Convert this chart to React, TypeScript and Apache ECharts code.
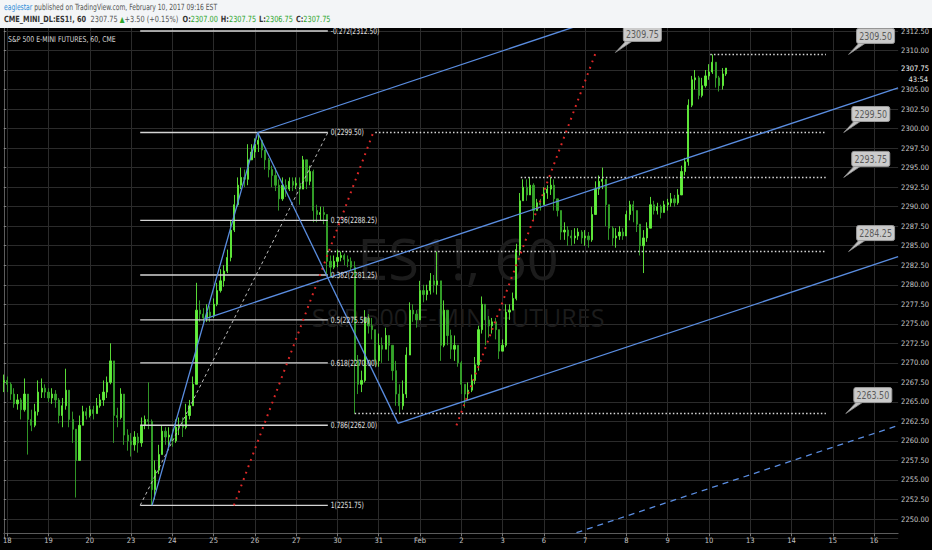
import React, { useEffect, useRef } from 'react';
import * as echarts from 'echarts';

const NARROW = '"Liberation Sans Narrow", "DejaVu Sans Condensed", "Arial Narrow", "Liberation Sans", sans-serif';

// x axis: trading days, 12 slots per day, one lead slot
const DAY_LABELS = ['18', '19', '20', '23', '24', '25', '26', '27', '30', '31', 'Feb', '2', '3', '6', '7', '8', '9', '10', '13', '14', '15', '16'];
const BARS_PER_DAY = 12;
const LEAD_BARS = 1;
const SLOT_COUNT = 261;

// price data (open of each bar = previous close)
const FIRST_OPEN = 2267.5;
const CLOSES = [
  2267.75, 2267.25, 2266.0, 2264.75, 2265.25, 2264.0, 2266.0, 2262.75, 2262.0, 2263.75,
  2266.25, 2266.75, 2266.25, 2265.5, 2266.0, 2265.25, 2263.25, 2264.5, 2266.5, 2262.75,
  2261.5, 2257.5, 2262.0, 2263.75, 2263.25, 2264.0, 2263.5, 2264.5, 2265.25, 2266.25,
  2267.5, 2270.25, 2263.25, 2263.0, 2266.0, 2260.75, 2260.0, 2259.5, 2260.5, 2259.75,
  2262.0, 2262.75, 2262.5, 2253.75, 2256.25, 2258.25, 2261.25, 2260.5, 2260.75, 2260.0,
  2261.75, 2262.0, 2261.75, 2263.25, 2264.5, 2267.25, 2276.75, 2276.25, 2275.75, 2276.5,
  2276.0, 2277.5, 2279.25, 2280.5, 2281.75, 2283.5, 2287.0, 2290.25, 2292.75, 2293.75,
  2293.5, 2296.0, 2297.0, 2298.0, 2298.5, 2297.25, 2296.0, 2294.75, 2294.0, 2292.75,
  2291.0, 2292.75, 2292.25, 2293.25, 2292.75, 2293.0, 2292.25, 2296.0, 2293.25, 2294.5,
  2289.5, 2289.0, 2289.25, 2289.0, 2283.0, 2282.25, 2283.0, 2283.5, 2283.75, 2283.25,
  2283.0, 2282.25, 2270.25, 2267.25, 2267.75, 2275.75, 2274.75, 2274.25, 2270.25, 2272.25,
  2271.75, 2273.5, 2272.25, 2269.0, 2266.0, 2264.5, 2266.0, 2271.0, 2276.75, 2276.25,
  2275.5, 2279.25, 2278.75, 2279.25, 2280.5, 2280.0, 2280.5, 2272.25, 2276.75, 2273.5,
  2271.75, 2272.25, 2270.0, 2267.25, 2266.0, 2266.5, 2267.75, 2269.75, 2274.25, 2277.5,
  2275.5, 2274.75, 2275.25, 2274.25, 2271.5, 2272.25, 2276.5, 2276.75, 2278.25, 2284.5,
  2290.75, 2292.5, 2291.5, 2292.75, 2289.5, 2290.5, 2290.25, 2291.75, 2292.25, 2292.75,
  2291.0, 2289.5, 2286.75, 2287.0, 2286.25, 2286.0, 2286.25, 2286.75, 2286.0, 2286.25,
  2285.75, 2289.0, 2292.25, 2293.25, 2293.5, 2290.25, 2287.25, 2286.0, 2286.25, 2286.75,
  2286.25, 2289.0, 2290.25, 2289.5, 2287.75, 2285.0, 2286.0, 2287.25, 2290.25, 2289.5,
  2290.0, 2289.25, 2290.25, 2290.5, 2291.0, 2290.5, 2291.5, 2294.5, 2295.75, 2303.0,
  2306.25, 2306.5, 2304.25, 2305.5, 2306.75, 2307.25, 2308.5, 2306.5, 2305.5, 2307.0,
  2307.75,
];
const HIGHS = [
  2268.5, 2268.25, 2267.5, 2266.75, 2266.0, 2265.5, 2268.0, 2264.5, 2264.0, 2264.75,
  2267.75, 2268.0, 2267.25, 2266.75, 2266.75, 2266.5, 2265.5, 2265.5, 2269.25, 2266.0,
  2263.75, 2261.5, 2263.25, 2264.5, 2264.25, 2264.5, 2264.5, 2265.5, 2266.0, 2267.75,
  2268.25, 2272.5, 2270.25, 2264.25, 2266.75, 2266.0, 2261.5, 2261.0, 2261.25, 2261.0,
  2263.0, 2263.25, 2267.5, 2262.75, 2257.5, 2259.5, 2262.0, 2261.75, 2261.75, 2261.5,
  2262.75, 2263.0, 2263.0, 2264.75, 2265.25, 2268.25, 2280.25, 2278.0, 2277.0, 2277.5,
  2277.25, 2278.25, 2280.25, 2282.0, 2282.5, 2284.5, 2288.25, 2291.5, 2293.75, 2295.0,
  2294.75, 2298.0, 2298.0, 2298.75, 2299.5, 2298.25, 2297.25, 2296.25, 2295.25, 2295.0,
  2293.5, 2293.75, 2293.5, 2293.75, 2293.75, 2293.75, 2293.75, 2296.5, 2295.25, 2295.25,
  2294.75, 2290.25, 2290.0, 2290.0, 2289.0, 2283.75, 2283.75, 2284.5, 2284.25, 2284.0,
  2283.75, 2283.5, 2283.0, 2271.0, 2269.0, 2276.75, 2276.25, 2275.75, 2274.25, 2273.75,
  2273.25, 2274.5, 2273.5, 2272.25, 2270.25, 2267.25, 2267.75, 2272.0, 2277.75, 2277.5,
  2276.75, 2280.5, 2280.0, 2280.0, 2281.5, 2281.25, 2284.25, 2280.5, 2278.0, 2275.5,
  2274.25, 2273.5, 2271.0, 2270.25, 2267.25, 2267.5, 2268.5, 2270.75, 2274.75, 2278.5,
  2277.5, 2276.0, 2275.75, 2275.75, 2274.25, 2273.0, 2277.5, 2277.5, 2279.0, 2285.25,
  2291.75, 2293.5, 2293.5, 2293.75, 2293.0, 2291.0, 2291.0, 2292.5, 2292.75, 2293.75,
  2293.5, 2290.75, 2289.0, 2288.0, 2287.5, 2287.0, 2287.25, 2287.25, 2287.0, 2287.0,
  2286.75, 2290.0, 2293.25, 2294.0, 2295.0, 2293.5, 2288.5, 2287.5, 2287.25, 2287.5,
  2287.25, 2289.5, 2290.75, 2290.75, 2289.25, 2287.0, 2287.0, 2288.0, 2291.25, 2290.75,
  2290.5, 2290.25, 2290.75, 2291.0, 2291.75, 2291.5, 2292.25, 2295.25, 2296.25, 2303.75,
  2306.75, 2307.5, 2306.75, 2306.5, 2307.5, 2308.25, 2309.5, 2308.5, 2306.75, 2307.75,
  2307.75,
];
const LOWS = [
  2266.25, 2266.25, 2265.25, 2264.25, 2264.0, 2262.75, 2263.75, 2258.25, 2261.25, 2261.75,
  2263.25, 2265.5, 2265.5, 2265.0, 2264.75, 2264.25, 2262.25, 2261.75, 2264.0, 2261.75,
  2259.75, 2252.75, 2257.5, 2262.0, 2262.75, 2263.0, 2262.75, 2263.5, 2264.25, 2264.5,
  2265.5, 2267.25, 2259.75, 2261.75, 2262.75, 2259.5, 2258.75, 2258.0, 2258.75, 2258.5,
  2259.25, 2261.5, 2261.5, 2251.75, 2252.5, 2255.75, 2258.25, 2259.5, 2259.25, 2259.25,
  2259.75, 2260.75, 2260.5, 2261.5, 2262.75, 2264.5, 2267.25, 2275.25, 2275.0, 2275.25,
  2275.25, 2275.75, 2277.25, 2279.0, 2279.75, 2281.5, 2283.0, 2286.75, 2290.0, 2292.25,
  2292.5, 2292.75, 2296.0, 2296.25, 2297.0, 2296.25, 2294.75, 2293.75, 2292.5, 2292.0,
  2289.5, 2290.75, 2291.25, 2292.0, 2292.0, 2292.25, 2290.25, 2292.25, 2292.25, 2292.75,
  2288.0, 2288.0, 2288.25, 2287.75, 2281.25, 2281.0, 2282.0, 2282.25, 2283.0, 2282.5,
  2282.25, 2281.75, 2263.5, 2266.0, 2266.25, 2267.5, 2273.75, 2273.0, 2269.5, 2269.5,
  2270.0, 2272.0, 2270.25, 2267.75, 2264.5, 2263.5, 2264.0, 2265.5, 2271.0, 2275.25,
  2274.5, 2275.5, 2277.75, 2278.0, 2278.75, 2279.0, 2278.75, 2270.25, 2272.0, 2272.25,
  2270.5, 2270.25, 2269.5, 2266.0, 2264.25, 2265.25, 2266.25, 2267.25, 2269.0, 2273.75,
  2272.25, 2273.25, 2273.75, 2273.0, 2270.5, 2271.5, 2272.0, 2275.5, 2276.75, 2278.0,
  2283.75, 2290.75, 2290.75, 2291.75, 2288.25, 2289.5, 2289.5, 2290.25, 2291.0, 2291.5,
  2289.5, 2288.75, 2285.75, 2285.75, 2285.0, 2285.0, 2285.25, 2285.75, 2285.25, 2285.0,
  2284.75, 2285.5, 2289.0, 2291.5, 2292.25, 2287.5, 2285.75, 2285.0, 2284.75, 2285.75,
  2285.75, 2286.25, 2288.25, 2288.0, 2286.75, 2283.75, 2281.5, 2285.5, 2287.75, 2289.0,
  2289.0, 2288.5, 2289.25, 2289.5, 2290.0, 2290.0, 2290.25, 2292.25, 2294.0, 2295.25,
  2302.75, 2305.0, 2303.75, 2304.0, 2305.25, 2306.25, 2307.0, 2305.25, 2304.75, 2305.0,
  2306.75,
];

// y axis
const Y_MIN = 2247.5;
const Y_MAX = 2315;
const Y_STEP = 2.5;
const AXIS_FLOOR = 2248.25;

// Fibonacci retracement
const FIB_RATIOS = ['-0.272', '0', '0.236', '0.382', '0.5', '0.618', '0.786', '1'];
const FIB_PRICES = [2312.5, 2299.5, 2288.25, 2281.25, 2275.5, 2270.0, 2262.0, 2251.75];
const FIB_FROM = 39.65;
const FIB_TO = 94.2;

// pitchfork pivots [bar position, price]
const PITCH_A = [43.1, 2251.75];
const PITCH_B = [73.8, 2299.5];
const PITCH_C = [114.6, 2262.25];
const PITCH_END = 260;

// horizontal dotted levels
const LEVEL_PRICES = [2309.5, 2299.5, 2293.75, 2284.25, 2263.5];
const LEVEL_FROM = [205.4, 108, 150.3, 94, 102];
const LEVEL_TO = 239;

// red dotted trend segments
const RED_FROM = [[66.9, 2251.75], [131.6, 2262.0]];
const RED_TO = [[107.4, 2299.5], [172.1, 2309.75]];

// price callouts
const CALLOUT_TEXT = ['2309.75', '2309.50', '2299.50', '2293.75', '2284.25', '2263.50'];
const CALLOUT_PRICE = [2309.75, 2309.5, 2299.5, 2293.75, 2284.25, 2263.5];
const CALLOUT_AT = [177.8, 245.6, 244.2, 244.2, 245.6, 244.8];

const LAST_PRICE = 2307.75;

function seg(a: number[], b: number[], lineStyle: any, extra: any = {}) {
  return {
    type: 'line',
    xAxisIndex: 1,
    yAxisIndex: 0,
    data: [a, b],
    symbol: 'none',
    silent: true,
    z: 3,
    lineStyle,
    ...extra,
  };
}

export default function App() {
  const ref = useRef<HTMLDivElement>(null);

  useEffect(() => {
    document.body.style.margin = '0';
    document.body.style.background = '#000';
    const chart = echarts.init(ref.current as HTMLDivElement, null, { renderer: 'svg' });

    const categories: string[] = [];
    for (let i = 0; i < SLOT_COUNT; i++) {
      const d = Math.floor((i - LEAD_BARS) / BARS_PER_DAY);
      categories.push(d < 0 ? '17' : DAY_LABELS[d] ?? '');
    }
    const isDayStart = (i: number) => i >= LEAD_BARS && (i - LEAD_BARS) % BARS_PER_DAY === 0;

    const candles = CLOSES.map((c, i) => {
      const o = i === 0 ? FIRST_OPEN : CLOSES[i - 1];
      return [o, c, Math.min(LOWS[i], o, c), Math.max(HIGHS[i], o, c)];
    });

    const series: any[] = [
      {
        type: 'candlestick',
        xAxisIndex: 0,
        yAxisIndex: 0,
        data: candles,
        barWidth: 1.7,
        z: 2,
        itemStyle: {
          color: '#62f03c',
          color0: '#36a52a',
          borderColor: '#62f03c',
          borderColor0: '#36a52a',
          borderWidth: 0.9,
        },
      },
    ];

    // Fibonacci levels
    FIB_PRICES.forEach((p) => {
      series.push(seg([FIB_FROM, p], [FIB_TO, p], { color: '#d4d4d4', width: 1.4 }));
    });
    series.push(seg([FIB_FROM, FIB_PRICES[FIB_PRICES.length - 1]], [FIB_TO, FIB_PRICES[1]], { color: '#bdbdbd', width: 1, type: [3, 3] }));

    // dotted horizontal levels
    LEVEL_PRICES.forEach((p, k) => {
      series.push(seg([LEVEL_FROM[k], p], [LEVEL_TO, p], { color: '#d8d8d8', width: 1.5, type: [1.5, 2.2] }));
    });

    // red dotted segments
    RED_FROM.forEach((a, k) => {
      series.push(seg(a, RED_TO[k], { color: '#e02828', width: 2, type: [1.8, 5] }));
    });

    // pitchfork
    const blue = { color: '#5a8de0', width: 1.3 };
    const midAB = [(PITCH_A[0] + PITCH_B[0]) / 2, (PITCH_A[1] + PITCH_B[1]) / 2];
    const midBC = [(PITCH_B[0] + PITCH_C[0]) / 2, (PITCH_B[1] + PITCH_C[1]) / 2];
    const slope = (midBC[1] - midAB[1]) / (midBC[0] - midAB[0]);
    const along = (p: number[], x: number) => [x, p[1] + slope * (x - p[0])];
    series.push(seg(PITCH_A, PITCH_B, blue));
    series.push(seg(PITCH_B, PITCH_C, blue));
    series.push(seg(midAB, along(midAB, PITCH_END), blue));
    series.push(seg(PITCH_B, along(PITCH_B, PITCH_END), blue));
    series.push(seg(PITCH_C, along(PITCH_C, PITCH_END), blue));
    // warning line, one more tine spacing below the lower tine
    const warnBase = [2 * PITCH_C[0] - midAB[0], 2 * PITCH_C[1] - midAB[1]];
    const warnStartX = warnBase[0] + (AXIS_FLOOR - warnBase[1]) / slope;
    series.push(seg(along(warnBase, warnStartX), along(warnBase, PITCH_END), { color: '#5a8de0', width: 1.3, type: [6, 5] }));

    chart.setOption({
      animation: false,
      backgroundColor: '#000000',
      grid: { left: 0, right: 27, top: 11.48, bottom: 11.48 },
      xAxis: [
        {
          type: 'category',
          data: categories,
          boundaryGap: false,
          position: 'bottom',
          offset: -5.5,
          axisLine: { show: true, lineStyle: { color: '#5c5c5c', width: 1 } },
          axisTick: { show: true, interval: (i: number) => isDayStart(i), length: 3, lineStyle: { color: '#777' } },
          axisLabel: {
            interval: (i: number) => isDayStart(i),
            color: '#c4c4c4',
            fontSize: 7.5,
            fontFamily: NARROW,
            margin: 3,
          },
          splitLine: { show: true, interval: (i: number) => isDayStart(i), lineStyle: { color: '#2b2b2b', width: 1 } },
        },
        { type: 'value', min: 0, max: SLOT_COUNT - 1, show: false, position: 'top' },
      ],
      yAxis: {
        type: 'value',
        position: 'right',
        min: Y_MIN,
        max: Y_MAX,
        interval: Y_STEP,
        axisLine: { show: true, lineStyle: { color: '#5c5c5c' } },
        axisTick: { show: true, length: 2, lineStyle: { color: '#888' } },
        axisLabel: {
          color: '#c8c8c8',
          fontSize: 7.5,
          fontFamily: NARROW,
          margin: 3,
          showMinLabel: false,
          showMaxLabel: false,
          formatter: (v: number) => (Math.abs(v - LAST_PRICE) < 1 ? '' : v.toFixed(2)),
        },
        splitLine: { show: true, lineStyle: { color: '#2b2b2b', width: 1 } },
      },
      series,
    });

    const px = (x: number) => chart.convertToPixel({ xAxisIndex: 1 }, x) as number;
    const py = (p: number) => chart.convertToPixel({ yAxisIndex: 0 }, p) as number;

    const graphics: any[] = [];
    // watermark
    graphics.push({
      type: 'text', x: 458, y: 258, z: 1, silent: true,
      style: { text: 'ES1!, 60', fill: '#1c1c1c', fontSize: 56, fontFamily: '"Open Sans", "Liberation Sans", sans-serif', align: 'center', verticalAlign: 'middle' },
    });
    graphics.push({
      type: 'text', x: 458, y: 317, z: 1, silent: true,
      style: { text: 'S&P 500 E-MINI FUTURES', fill: '#1c1c1c', fontSize: 25, fontFamily: '"Open Sans", "Liberation Sans", sans-serif', align: 'center', verticalAlign: 'middle' },
    });
    // chart title
    graphics.push({
      type: 'text', x: 8, y: 39, z: 60, silent: true, scaleX: 0.86,
      style: { text: 'S&P 500 E-MINI FUTURES, 60, CME', fill: '#d6d6d6', fontSize: 8, fontFamily: NARROW, align: 'left', verticalAlign: 'middle' },
    });

    // Fibonacci level labels
    FIB_PRICES.forEach((p, k) => {
      graphics.push({
        type: 'text', z: 60, silent: true, x: px(FIB_TO) + 3, y: py(p), scaleX: 0.78,
        style: { text: `${FIB_RATIOS[k]}(${p.toFixed(2)})`, fill: '#e2e2e2', fontSize: 8.5, fontFamily: NARROW, align: 'left', verticalAlign: 'middle' },
      });
    });

    // callouts
    CALLOUT_TEXT.forEach((t, k) => {
      const tx = px(CALLOUT_AT[k]);
      const ty = py(CALLOUT_PRICE[k]);
      const bw = 38;
      const bh = 15;
      const bx = tx + 8;
      const by = ty - 11 - bh;
      graphics.push({
        type: 'polygon', z: 70, silent: true,
        shape: { points: [[bx + 3, by + bh - 1], [bx + 10, by + bh - 1], [tx, ty]] },
        style: { fill: '#c2c2c2', stroke: '#8a8a8a', lineWidth: 0.8 },
      });
      graphics.push({
        type: 'rect', z: 71, silent: true,
        shape: { x: bx, y: by, width: bw, height: bh, r: 2 },
        style: { fill: '#cbcbcb', stroke: '#9a9a9a', lineWidth: 1 },
      });
      graphics.push({
        type: 'text', z: 72, silent: true, x: bx + bw / 2, y: by + bh / 2 + 0.5, scaleX: 0.88,
        style: { text: t, fill: '#5a5a5a', fontSize: 10, fontFamily: NARROW, align: 'center', verticalAlign: 'middle' },
      });
    });

    // last price and countdown on the price scale
    const lastY = py(LAST_PRICE);
    graphics.push({
      type: 'text', z: 80, silent: true, x: 929, y: lastY,
      style: { text: LAST_PRICE.toFixed(2), fill: '#ffffff', fontSize: 7.5, fontFamily: NARROW, align: 'right', verticalAlign: 'middle' },
    });
    graphics.push({
      type: 'text', z: 80, silent: true, x: 928, y: lastY + 11,
      style: { text: '43:54', fill: '#e6e6e6', fontSize: 7.5, fontFamily: NARROW, align: 'right', verticalAlign: 'middle' },
    });

    // header
    graphics.push({
      type: 'rect', z: 100, silent: true,
      shape: { x: 0, y: 0, width: 932, height: 28 },
      style: { fill: '#f3f5f7' },
    });
    graphics.push({
      type: 'text', z: 101, silent: true, x: 4, y: 7, scaleX: 0.79,
      style: {
        text: '{a|eaglestar}{b| published on TradingView.com, February 10, 2017 09:16 EST}',
        verticalAlign: 'middle',
        rich: {
          a: { fill: '#2f8fd8', fontSize: 8.5, fontFamily: NARROW },
          b: { fill: '#555555', fontSize: 8.5, fontFamily: NARROW },
        },
      },
    });
    graphics.push({
      type: 'text', z: 101, silent: true, x: 4, y: 19, scaleX: 0.86,
      style: {
        text: '{k|CME_MINI_DL:ES1!, 60}{v|  2307.75 }{u|▲}{v|+3.50 (+0.15%)  }{k|O:}{g|2307.00} {k|H:}{g|2307.75} {k|L:}{g|2306.75} {k|C:}{g|2307.75}',
        verticalAlign: 'middle',
        rich: {
          k: { fill: '#333333', fontSize: 8.5, fontWeight: 'bold', fontFamily: NARROW },
          v: { fill: '#555555', fontSize: 8.5, fontFamily: NARROW },
          u: { fill: '#2fa52f', fontSize: 8, fontFamily: NARROW },
          g: { fill: '#2fa52f', fontSize: 8.5, fontFamily: NARROW },
        },
      },
    });

    chart.setOption({ graphic: { elements: graphics } });

    return () => chart.dispose();
  }, []);

  return <div ref={ref} style={{ width: 932, height: 550, position: 'absolute', left: 0, top: 0 }} />;
}
